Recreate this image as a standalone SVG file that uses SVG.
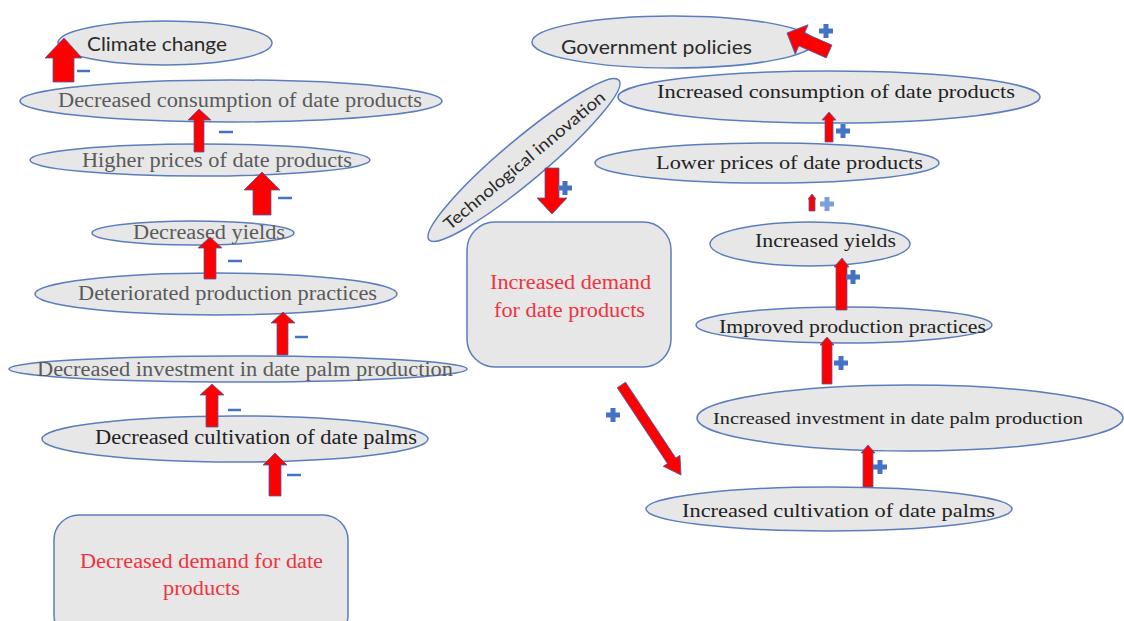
<svg xmlns="http://www.w3.org/2000/svg" width="1124" height="621" viewBox="0 0 1124 621">
<style>
.n{fill:#e7e7e7;stroke:#5b7dbd;stroke-width:1.5}
.s{font-family:"Liberation Serif",serif;font-size:20px;fill:#5a5a5a}
.d{font-family:"Liberation Serif",serif;font-size:19px;fill:#222}
.r{font-family:"Liberation Serif",serif;font-size:20px;fill:#ee3340}
.c{font-family:Lato,"Liberation Sans",sans-serif;font-size:20px;fill:#2a2a2a}
.a{fill:#ff0000;stroke:#4a5fa8;stroke-width:0.8}
.m{stroke:#4472c4;stroke-width:2.5}
.p{fill:#4472c4}
.pl{fill:#7da0d8}
</style>
<defs>
<path id="plus" d="M-2.5,-7h5v4.5h4.5v5h-4.5v4.5h-5v-4.5h-4.5v-5h4.5z"/>
</defs>
<rect width="1124" height="621" fill="#fff"/>

<g id="climate"><ellipse class="n" cx="165" cy="43" rx="107" ry="22"/><text class="c" x="87" y="43" dominant-baseline="central" textLength="140" lengthAdjust="spacingAndGlyphs">Climate change</text></g>
<g id="dec-consumption"><ellipse class="n" cx="231" cy="101" rx="211" ry="21"/><text class="s" x="58" y="100" dominant-baseline="central" textLength="364" lengthAdjust="spacingAndGlyphs">Decreased consumption of date products</text></g>
<g id="higher-prices"><ellipse class="n" cx="200" cy="160" rx="170" ry="16"/><text class="s" x="82" y="160" dominant-baseline="central" textLength="270" lengthAdjust="spacingAndGlyphs">Higher prices of date products</text></g>
<g id="dec-yields"><ellipse class="n" cx="193" cy="233" rx="101" ry="12"/><text class="s" x="133" y="232" dominant-baseline="central" textLength="152" lengthAdjust="spacingAndGlyphs">Decreased yields</text></g>
<g id="deteriorated"><ellipse class="n" cx="216" cy="294" rx="181" ry="21"/><text class="s" x="78" y="293" dominant-baseline="central" textLength="299" lengthAdjust="spacingAndGlyphs">Deteriorated production practices</text></g>
<g id="dec-investment"><ellipse class="n" cx="238" cy="369" rx="229" ry="13"/><text class="s" x="37" y="369" dominant-baseline="central" textLength="416" lengthAdjust="spacingAndGlyphs">Decreased investment in date palm production</text></g>
<g id="dec-cultivation"><ellipse class="n" cx="235" cy="439" rx="193" ry="23"/><text class="s" x="95" y="437" dominant-baseline="central" textLength="322" lengthAdjust="spacingAndGlyphs" style="fill:#222">Decreased cultivation of date palms</text></g>
<g id="dec-demand"><rect class="n" x="54" y="515" width="294" height="125" rx="25"/><text class="r" x="80" y="561" dominant-baseline="central" textLength="243" lengthAdjust="spacingAndGlyphs">Decreased demand for date</text><text class="r" x="163" y="588" dominant-baseline="central" textLength="77" lengthAdjust="spacingAndGlyphs">products</text></g>

<g id="gov"><ellipse class="n" cx="673" cy="42" rx="141" ry="26"/><text class="c" x="561" y="46" dominant-baseline="central" textLength="191" lengthAdjust="spacingAndGlyphs" style="font-size:19px">Government policies</text></g>
<g id="inc-consumption"><ellipse class="n" cx="829" cy="97" rx="211" ry="26"/><text class="d" x="657" y="91" dominant-baseline="central" textLength="358" lengthAdjust="spacingAndGlyphs">Increased consumption of date products</text></g>
<g id="lower-prices"><ellipse class="n" cx="767" cy="163" rx="172" ry="20"/><text class="d" x="656" y="162" dominant-baseline="central" textLength="267" lengthAdjust="spacingAndGlyphs">Lower prices of date products</text></g>
<g id="tech"><g transform="translate(524,160) rotate(-40)"><ellipse class="n" cx="0" cy="0" rx="124" ry="21"/><text class="c" x="0" y="0" text-anchor="middle" dominant-baseline="central" textLength="205" lengthAdjust="spacingAndGlyphs" style="font-size:17px">Technological innovation</text></g></g>
<g id="inc-demand"><rect class="n" x="467" y="222" width="204" height="145" rx="28"/><text class="r" x="490" y="282" dominant-baseline="central" textLength="161" lengthAdjust="spacingAndGlyphs">Increased demand</text><text class="r" x="494" y="310" dominant-baseline="central" textLength="151" lengthAdjust="spacingAndGlyphs">for date products</text></g>
<g id="inc-yields"><ellipse class="n" cx="810" cy="244" rx="100" ry="22"/><text class="d" x="755" y="240" dominant-baseline="central" textLength="141" lengthAdjust="spacingAndGlyphs">Increased yields</text></g>
<g id="improved"><ellipse class="n" cx="844" cy="325" rx="148" ry="18"/><text class="d" x="719" y="326" dominant-baseline="central" textLength="267" lengthAdjust="spacingAndGlyphs">Improved production practices</text></g>
<g id="inc-investment"><ellipse class="n" cx="910" cy="418" rx="213" ry="33"/><text class="d" x="713" y="418" dominant-baseline="central" textLength="370" lengthAdjust="spacingAndGlyphs" style="font-size:17px">Increased investment in date palm production</text></g>
<g id="inc-cultivation"><ellipse class="n" cx="829" cy="509" rx="183" ry="22"/><text class="d" x="682" y="510" dominant-baseline="central" textLength="313" lengthAdjust="spacingAndGlyphs">Increased cultivation of date palms</text></g>

<g id="connectors">
<polygon class="a" points="64,38 82,58 74,58 74,82 53,82 53,58 45,58"/>
<polygon class="a" points="199,109 211,120 204,120 204,152 194,152 194,120 188,120"/>
<polygon class="a" points="262,172 280,190 271,190 271,215 253,215 253,190 244,190"/>
<polygon class="a" points="210,237 222,248 216,248 216,279 204,279 204,248 198,248"/>
<polygon class="a" points="283,312 295,323 288,323 288,355 277,355 277,323 271,323"/>
<polygon class="a" points="212,384 224,395 218,395 218,427 206,427 206,395 200,395"/>
<polygon class="a" points="275,453 287,465 281,465 281,496 269,496 269,465 263,465"/>
<line class="m" x1="77" y1="71" x2="90" y2="71"/>
<line class="m" x1="219" y1="132" x2="233" y2="132"/>
<line class="m" x1="278" y1="198" x2="292" y2="198"/>
<line class="m" x1="228" y1="261" x2="242" y2="261"/>
<line class="m" x1="295" y1="337" x2="308" y2="337"/>
<line class="m" x1="228" y1="410" x2="241" y2="410"/>
<line class="m" x1="287" y1="475" x2="301" y2="475"/>

<polygon class="a" transform="translate(787,33) rotate(203.7)" points="0,0 -16,-16 -16,-7 -46,-7 -46,7 -16,7 -16,16"/>
<polygon class="a" points="829,112 836,120 833,120 833,142 825,142 825,120 822,120"/>
<polygon class="a" points="812,194 816,199 815,199 815,211 809,211 809,199 808,199"/>
<polygon class="a" points="552,214 567,198 559,198 559,168 545,168 545,198 537,198"/>
<polygon class="a" points="842,258 849,267 847,267 847,310 836,310 836,267 834,267"/>
<polygon class="a" points="827,337 834,345 832,345 832,384 822,384 822,345 820,345"/>
<polygon class="a" transform="translate(681,475) rotate(56.5)" points="0,0 -17,-10 -17,-5 -108,-5 -108,5 -17,5 -17,10"/>
<polygon class="a" points="868,445 875,453 873,453 873,487 863,487 863,453 861,453"/>

<use href="#plus" class="p" x="826" y="31"/>
<use href="#plus" class="p" x="843" y="131"/>
<use href="#plus" class="pl" x="827" y="204"/>
<use href="#plus" class="p" x="565" y="188"/>
<use href="#plus" class="p" x="853" y="277"/>
<use href="#plus" class="p" x="841" y="363"/>
<use href="#plus" class="p" x="613" y="415"/>
<use href="#plus" class="p" x="880" y="467"/>
</g>
</svg>
